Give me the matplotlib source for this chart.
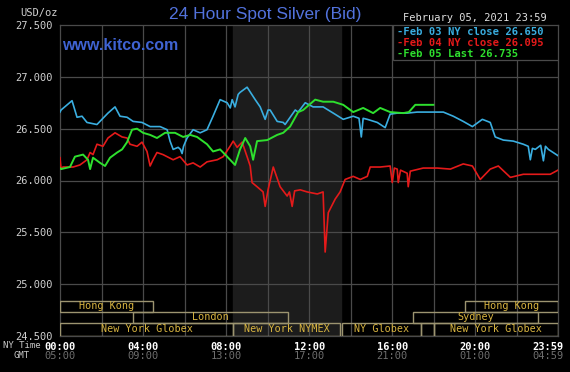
import matplotlib
matplotlib.use("Agg")
import matplotlib.pyplot as plt
from matplotlib.patches import Rectangle
import matplotlib.transforms as mtransforms

# ---- data (hour of NY day, price USD/oz) ----
feb03_hours = [0.0, 0.05, 0.58, 0.82, 1.06, 1.30, 1.78, 2.02, 2.31, 2.65, 2.89, 3.23, 3.52,
               3.95, 4.34, 4.82, 5.16, 5.30, 5.45, 5.69, 5.80, 5.88, 5.95, 6.12, 6.41, 6.75,
               7.08, 7.37, 7.71, 8.05, 8.20, 8.29, 8.43, 8.58, 8.67, 9.01, 9.40, 9.64, 9.88,
               10.02, 10.12, 10.46, 10.75, 10.84, 11.33, 11.47, 11.81, 12.19, 12.67, 13.16,
               13.64, 14.12, 14.40, 14.51, 14.60, 14.80, 15.28, 15.66, 15.90, 16.24, 16.72,
               17.20, 17.98, 18.46, 18.94, 19.42, 19.86, 20.34, 20.72, 20.96, 21.35, 21.83,
               22.31, 22.55, 22.65, 22.75, 22.89, 23.15, 23.28, 23.38, 23.52, 23.75, 23.98]
feb03_price = [26.66, 26.68, 26.77, 26.61, 26.62, 26.56, 26.54, 26.59, 26.65, 26.71, 26.62,
               26.61, 26.57, 26.56, 26.52, 26.52, 26.49, 26.38, 26.30, 26.32, 26.30, 26.26,
               26.33, 26.41, 26.49, 26.46, 26.49, 26.62, 26.78, 26.75, 26.70, 26.78, 26.71,
               26.83, 26.85, 26.90, 26.78, 26.71, 26.59, 26.68, 26.68, 26.57, 26.56, 26.54,
               26.68, 26.66, 26.75, 26.71, 26.71, 26.65, 26.59, 26.62, 26.60, 26.42, 26.60,
               26.59, 26.56, 26.51, 26.64, 26.65, 26.65, 26.66, 26.66, 26.66, 26.62, 26.57,
               26.52, 26.59, 26.56, 26.42, 26.39, 26.38, 26.35, 26.33, 26.20, 26.31, 26.30,
               26.34, 26.19, 26.33, 26.30, 26.27, 26.24]

feb04_hours = [0.0, 0.05, 0.14, 0.63, 0.96, 1.30, 1.45, 1.59, 1.78, 2.07, 2.31, 2.65, 2.99,
               3.23, 3.37, 3.71, 3.95, 4.19, 4.34, 4.48, 4.67, 4.96, 5.45, 5.78, 6.12, 6.41,
               6.75, 7.08, 7.57, 7.86, 8.19, 8.34, 8.53, 8.77, 9.01, 9.16, 9.25, 9.49, 9.78,
               9.88, 10.02, 10.27, 10.60, 10.94, 11.05, 11.18, 11.30, 11.57, 11.90, 12.39,
               12.67, 12.77, 12.92, 13.25, 13.49, 13.73, 14.12, 14.46, 14.80, 14.94, 15.42,
               15.90, 16.00, 16.10, 16.24, 16.29, 16.40, 16.72, 16.77, 16.87, 17.49, 18.17,
               18.80, 19.42, 19.86, 20.24, 20.72, 21.11, 21.69, 22.31, 23.13, 23.61, 23.98]
feb04_price = [26.22, 26.11, 26.13, 26.13, 26.15, 26.20, 26.27, 26.25, 26.35, 26.33, 26.41,
               26.46, 26.42, 26.41, 26.35, 26.33, 26.37, 26.28, 26.14, 26.20, 26.27, 26.25,
               26.20, 26.23, 26.15, 26.17, 26.13, 26.18, 26.20, 26.23, 26.33, 26.38, 26.32,
               26.37, 26.23, 26.14, 25.98, 25.94, 25.89, 25.75, 25.91, 26.13, 25.94, 25.85,
               25.89, 25.75, 25.90, 25.91, 25.89, 25.87, 25.89, 25.31, 25.69, 25.82, 25.89,
               26.01, 26.04, 26.01, 26.04, 26.13, 26.13, 26.14, 25.98, 26.12, 26.11, 25.98,
               26.10, 26.07, 25.94, 26.09, 26.12, 26.12, 26.11, 26.16, 26.14, 26.01, 26.11,
               26.14, 26.03, 26.06, 26.06, 26.06, 26.10]

feb05_hours = [0.0, 0.05, 0.48, 0.72, 1.11, 1.35, 1.45, 1.59, 1.93, 2.17, 2.41, 2.75, 2.99,
               3.23, 3.47, 3.71, 4.00, 4.34, 4.67, 5.06, 5.54, 5.93, 6.27, 6.60, 7.08, 7.37,
               7.71, 8.05, 8.43, 8.67, 8.92, 9.16, 9.30, 9.49, 9.98, 10.46, 10.75, 11.08,
               11.47, 11.71, 12.29, 12.67, 13.16, 13.64, 14.12, 14.60, 15.08, 15.42, 15.90,
               16.53, 16.80, 17.11, 17.98]
feb05_price = [26.12, 26.11, 26.13, 26.23, 26.25, 26.20, 26.11, 26.22, 26.17, 26.14, 26.22,
               26.27, 26.30, 26.37, 26.49, 26.50, 26.46, 26.44, 26.41, 26.46, 26.46, 26.42,
               26.44, 26.42, 26.35, 26.28, 26.30, 26.23, 26.15, 26.30, 26.41, 26.33, 26.20,
               26.38, 26.39, 26.44, 26.46, 26.52, 26.66, 26.68, 26.78, 26.76, 26.76, 26.73,
               26.66, 26.70, 26.65, 26.70, 26.66, 26.65, 26.66, 26.73, 26.73]

legend_labels = ["-Feb 03 NY close 26.650", "-Feb 04 NY close 26.095", "-Feb 05 Last 26.735"]

# trading sessions: name, start hour, end hour, row (0 = top)
session_names = ["Hong Kong", "Hong Kong", "London", "Sydney", "New York Globex",
                 "New York NYMEX", "NY Globex", "", "New York Globex"]
session_start = [0.0, 19.5, 3.5, 17.0, 0.0, 8.33, 13.6, 17.4, 18.0]
session_end = [4.5, 24.0, 11.0, 23.0, 8.33, 13.5, 17.4, 18.0, 24.0]
session_row = [0, 0, 1, 1, 2, 2, 2, 2, 2]

nymex_open, nymex_close = 8.33, 13.55

ny_ticks = [0, 4, 8, 12, 16, 20, 23.983]
ny_labels = ["00:00", "04:00", "08:00", "12:00", "16:00", "20:00", "23:59"]
gmt_labels = ["05:00", "09:00", "13:00", "17:00", "21:00", "01:00", "04:59"]

# ---- styling ----
blue = "#3aaee0"
red = "#e41a1a"
green = "#2ee02e"
grid_c = "#4a4a4a"
mono = "DejaVu Sans Mono"

fig = plt.figure(figsize=(5.7, 3.72), dpi=100, facecolor="black")
ax = fig.add_axes([60 / 570, 36 / 372, 498 / 570, 311 / 372])
ax.set_facecolor("black")
ax.set_xlim(0, 23.983)
ax.set_ylim(24.5, 27.5)

ax.axvspan(nymex_open, nymex_close, color="#1c1c1c", zorder=0)
for h in range(2, 24, 2):
    ax.axvline(h, color=grid_c, lw=0.9, zorder=1)
for p in [25.0, 25.5, 26.0, 26.5, 27.0]:
    ax.axhline(p, color=grid_c, lw=0.9, zorder=1)

ax.plot(feb03_hours, feb03_price, color=blue, lw=1.2, zorder=3)
ax.plot(feb04_hours, feb04_price, color=red, lw=1.2, zorder=3)
ax.plot(feb05_hours, feb05_price, color=green, lw=1.4, zorder=4)

for s in ax.spines.values():
    s.set_color(grid_c)
    s.set_linewidth(0.9)

# session boxes along the bottom
row_h = 0.106
for name, a, b, r in zip(session_names, session_start, session_end, session_row):
    if r == 2:
        y0, h = 24.5, row_h + 0.02
    else:
        y0, h = 24.5 + row_h + 0.02 + (1 - r) * row_h, row_h
    ax.add_patch(Rectangle((a, y0), b - a, h, fill=False, edgecolor="#9c9470",
                           lw=1.0, zorder=5))
    ax.text((a + b) / 2, y0 + h / 2, name, color="#d8b440", fontsize=7.3,
            family=mono, ha="center", va="center", zorder=6)

# y axis
yt = [24.5, 25.0, 25.5, 26.0, 26.5, 27.0, 27.5]
ax.set_yticks(yt)
ax.set_yticklabels([f"{v:.3f}" for v in yt], family=mono, fontsize=7.5, color="#d0d0d0")
ax.tick_params(axis="y", length=0, pad=5)

# x axis: NY time and GMT rows
ax.set_xticks(ny_ticks)
ax.set_xticklabels(ny_labels, family=mono, fontsize=7.5, color="white", fontweight="bold")
ax.tick_params(axis="x", length=0, pad=4)
shift_left = mtransforms.ScaledTranslation(-10 / 100, 0, fig.dpi_scale_trans)
last = ax.get_xticklabels()[-1]
last.set_transform(last.get_transform() + shift_left)
trans = mtransforms.blended_transform_factory(ax.transData, ax.transAxes)
for i, (h, g) in enumerate(zip(ny_ticks, gmt_labels)):
    tr = trans + shift_left if i == len(ny_ticks) - 1 else trans
    ax.text(h, -20 / 311, g, transform=tr, family=mono, fontsize=7.5,
            color="#6e6e6e", ha="center", va="center", clip_on=False)
fig.text(3 / 570, 1 - 345 / 372, "NY Time", family=mono, fontsize=6.5,
         color="#c8c8c8", va="center")
fig.text(13 / 570, 1 - 356 / 372, "GMT", family=mono, fontsize=6.5,
         color="#c8c8c8", va="center")
fig.text(20 / 570, 1 - 13 / 372, "USD/oz", family=mono, fontsize=7.5,
         color="#d0d0d0", va="center")

# titles
fig.text(265 / 570, 1 - 14 / 372, "24 Hour Spot Silver (Bid)", family="Liberation Sans",
         fontsize=12.5, color="#5272dc", ha="center", va="center")
ax.text(62 / 570, 1 - 46 / 372, "www.kitco.com", transform=fig.transFigure,
        family="Liberation Sans", fontweight="bold", fontsize=11.5, color="#3f63d2",
        va="center", zorder=6)
fig.text(403 / 570, 1 - 18 / 372, "February 05, 2021 23:59", family=mono,
         fontsize=7.5, color="#e0e0e0", va="center")

# legend box in the top-right corner
ax.add_patch(Rectangle((393 / 570, 1 - 60 / 372), 165 / 570, 35 / 372,
                       transform=fig.transFigure, facecolor="black",
                       edgecolor=grid_c, lw=0.9, zorder=7))
for i, (lab, c) in enumerate(zip(legend_labels, [blue, red, green])):
    fig.text(397 / 570, 1 - (32 + 11 * i) / 372, lab, family=mono, fontsize=7.6,
             color=c, va="center", fontweight="bold", zorder=8)

fig.savefig("out.png", dpi=100, facecolor="black")
